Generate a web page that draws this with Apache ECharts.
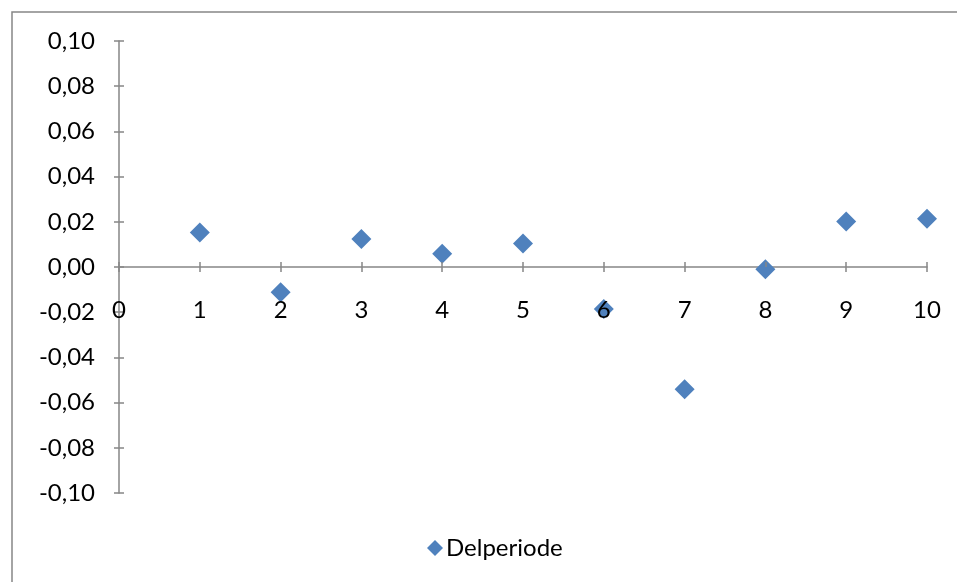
<!DOCTYPE html>
<html>
<head>
<meta charset="utf-8">
<script src="https://cdn.jsdelivr.net/npm/echarts@6/dist/echarts.min.js"></script>
<style>
  html, body { margin: 0; padding: 0; background: #fff; }
  #chart { width: 957px; height: 582px; }
</style>
</head>
<body>
<div id="chart"></div>
<script>
// Period index and the deviation measured in each period
const periods = [1, 2, 3, 4, 5, 6, 7, 8, 9, 10];
const deviations = [0.0153, -0.0112, 0.0124, 0.0059, 0.0104, -0.0186, -0.0541, -0.0010, 0.0201, 0.0213];
const seriesName = 'Delperiode';

const yMin = -0.10, yMax = 0.10, yStep = 0.02;
const xMin = 0, xMax = 10, xStep = 1;

const FONT = 'Lato, "Open Sans", sans-serif';
const AXIS_GRAY = '#868686';
const MARK_BLUE = '#4F81BD';

const fmtY = v => v.toFixed(2).replace('-0.00', '0.00').replace('.', ',');

const chart = echarts.init(document.getElementById('chart'), null, { renderer: 'canvas' });

const plotBox = { left: 119, right: 30, top: 41, bottom: 89, containLabel: false };
const yBase = { type: 'value', min: yMin, max: yMax, interval: yStep, position: 'left', splitLine: { show: false } };
const xBase = { type: 'value', min: xMin, max: xMax, interval: xStep, position: 'bottom', splitLine: { show: false } };
const tickStyle = { color: AXIS_GRAY, width: 1.5 };

chart.setOption({
  animation: false,
  backgroundColor: '#fff',
  // grid 0 holds the data; grid 1 overlays it to carry the upper tick halves and the x labels
  grid: [Object.assign({}, plotBox), Object.assign({}, plotBox)],
  graphic: [{
    type: 'rect',
    shape: { x: 12, y: 12, width: 1000, height: 1000 },
    style: { fill: 'none', stroke: AXIS_GRAY, lineWidth: 1.5 },
    silent: true, z: -1
  }],
  xAxis: [
    Object.assign({}, xBase, {
      gridIndex: 0,
      axisLine: { show: true, onZero: true, lineStyle: tickStyle },
      axisTick: { show: true, inside: false, length: 5, lineStyle: tickStyle },
      axisLabel: { show: false }
    }),
    Object.assign({}, xBase, {
      gridIndex: 1,
      z: 5,
      offset: 0,
      axisLine: { show: false, onZero: false },
      axisTick: { show: true, inside: true, length: 5, lineStyle: tickStyle },
      axisLabel: { show: true, margin: 31, color: '#000', fontSize: 24, fontFamily: FONT }
    })
  ],
  yAxis: [
    Object.assign({}, yBase, {
      gridIndex: 0,
      axisLine: { show: true, onZero: false, lineStyle: tickStyle },
      axisTick: { show: true, inside: false, length: 5, lineStyle: tickStyle },
      axisLabel: { show: true, margin: 24, color: '#000', fontSize: 24, fontFamily: FONT, formatter: fmtY }
    }),
    Object.assign({}, yBase, {
      gridIndex: 1,
      axisLine: { show: false, onZero: false },
      axisTick: { show: true, inside: true, length: 5, lineStyle: tickStyle },
      axisLabel: { show: false }
    })
  ],
  legend: {
    data: [{ name: seriesName, icon: 'diamond' }],
    left: 422, top: 531,
    itemWidth: 16, itemHeight: 16, itemGap: 4,
    textStyle: { color: '#000', fontSize: 24, fontFamily: FONT, padding: [0, 0, 0, -2] }
  },
  series: [{
    name: seriesName,
    type: 'scatter',
    xAxisIndex: 0,
    yAxisIndex: 0,
    symbol: 'diamond',
    symbolSize: [20, 20],
    itemStyle: { color: MARK_BLUE, opacity: 1 },
    data: periods.map((p, i) => [p, deviations[i]])
  }]
});

// Lift the overlay x axis so it sits on the y = 0 line of the data grid
const zeroY = chart.convertToPixel({ yAxisIndex: 0 }, 0);
const bottomY = chart.convertToPixel({ yAxisIndex: 0 }, yMin);
chart.setOption({ xAxis: [{}, { offset: zeroY - bottomY }] });
</script>
</body>
</html>
